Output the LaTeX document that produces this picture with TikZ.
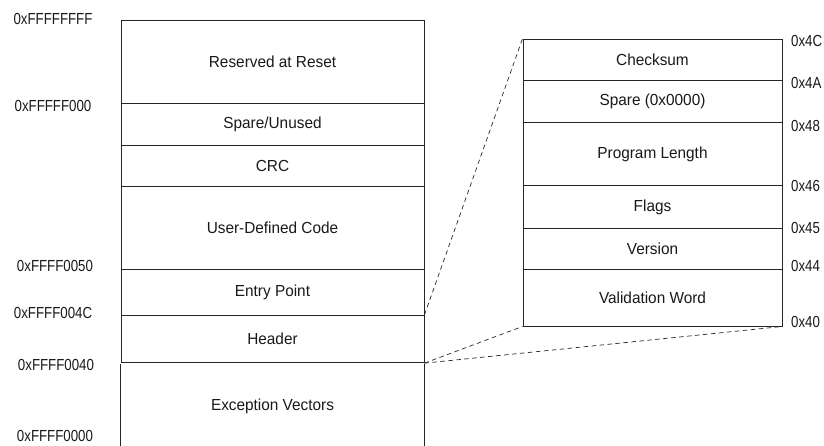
\documentclass[tikz,border=0pt]{standalone}
\usepackage{fontspec}
\setmainfont[FakeStretch=0.96]{Liberation Sans}
\newfontfamily\addrfont[FakeStretch=0.83]{Liberation Sans}
\begin{document}
\begin{tikzpicture}[x=1pt,y=-1pt,
  lfield/.style={draw=black!85, line width=0.9pt, minimum width=303pt, inner sep=0pt, font=\fontsize{16}{18}\selectfont, text=black!90},
  rfield/.style={draw=black!85, line width=0.9pt, minimum width=259pt, inner sep=0pt, font=\fontsize{16}{18}\selectfont, text=black!90},
  laddr/.style={font=\addrfont\fontsize{16}{18}\selectfont, text=black!90, inner sep=0pt},
  raddr/.style={font=\addrfont\fontsize{16}{18}\selectfont, text=black!90, inner sep=0pt, anchor=west},
  zoomline/.style={line width=0.7pt, draw=black!85, dash pattern=on 4.5pt off 3.5pt}]
\useasboundingbox (0,0) rectangle (824,445);
% left memory map
\node[lfield, minimum height=82.6pt] (res) at (272.5,62.0) {Reserved at Reset};
\node[lfield, minimum height=41.7pt] (spare) at (272.5,124.15) {Spare/Unused};
\node[lfield, minimum height=41pt] (crc) at (272.5,165.5) {CRC};
\node[lfield, minimum height=83pt] (user) at (272.5,227.5) {User-Defined Code};
\node[lfield, minimum height=46.3pt] (entry) at (272.5,292.15) {Entry Point};
\node[lfield, minimum height=47.4pt] (header) at (272.5,339.0) {Header};
\node[inner sep=0pt, minimum width=303pt, minimum height=84pt, font=\fontsize{16}{18}\selectfont, text=black!90] (exc) at (272.5,406) {Exception Vectors};
\draw[line width=0.9pt, draw=black!85] (exc.north west) -- (exc.south west) (exc.north east) -- (exc.south east);
% left addresses
\node[laddr] (a1) at (53,19) {0xFFFFFFFF};
\node[laddr] (a2) at (53,106) {0xFFFFF000};
\node[laddr] (a3) at (55,266) {0xFFFF0050};
\node[laddr] (a4) at (53,313) {0xFFFF004C};
\node[laddr] (a5) at (56,365) {0xFFFF0040};
\node[laddr] (a6) at (55,436) {0xFFFF0000};
% right header detail
\node[rfield, minimum height=41.7pt] (chk) at (652.5,59.85) {Checksum};
\node[rfield, minimum height=42pt] (sp) at (652.5,101.7) {Spare (0x0000)};
\node[rfield, minimum height=63pt] (plen) at (652.5,154.2) {Program Length};
\node[rfield, minimum height=42.6pt] (flags) at (652.5,207.0) {Flags};
\node[rfield, minimum height=40.7pt] (ver) at (652.5,248.65) {Version};
\node[rfield, minimum height=57pt] (valid) at (652.5,297.5) {Validation Word};
% right addresses
\node[raddr] (b1) at (791,40.5) {0x4C};
\node[raddr] (b2) at (791,83) {0x4A};
\node[raddr] (b3) at (791,126) {0x48};
\node[raddr] (b4) at (791,186) {0x46};
\node[raddr] (b5) at (791,227.5) {0x45};
\node[raddr] (b6) at (791,266) {0x44};
\node[raddr] (b7) at (791,322) {0x40};
% zoom lines
\draw[zoomline] (header.north east) -- (chk.north west);
\draw[zoomline] (header.south east) -- (valid.south west);
\draw[zoomline] (header.south east) -- (valid.south east);
\end{tikzpicture}
\end{document}
